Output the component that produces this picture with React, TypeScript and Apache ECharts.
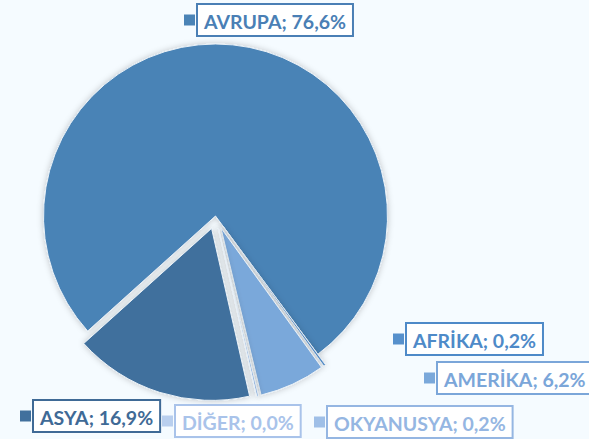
import React, { useEffect, useRef } from "react";
import * as echarts from "echarts";

const categories = ["AVRUPA", "AFRİKA", "AMERİKA", "OKYANUSYA", "DİĞER", "ASYA"];
const values = [76.6, 0.2, 6.2, 0.2, 0.0, 16.9];
const labels = ["76,6%", "0,2%", "6,2%", "0,2%", "0,0%", "16,9%"];

const sliceColors = ["#4a83b6", "#5690cc", "#7aa8da", "#9fbfe7", "#b9cfee", "#41709d"];
const textColors = ["#4a7fb5", "#4e8ac8", "#7ba6d9", "#95b6e2", "#a9c3ea", "#3f6a96"];
const labelPos: [number, number][] = [
  [184, 20],
  [393, 339],
  [424, 378],
  [314, 422],
  [162, 421],
  [20, 416],
];

export default function App() {
  const ref = useRef<HTMLDivElement>(null);
  useEffect(() => {
    if (!ref.current) return;
    const chart = echarts.init(ref.current, undefined, { renderer: "svg" });
    const data = categories.map((name, i) => ({
      name,
      value: values[i] === 0 ? 0.0001 : values[i],
      selected: i !== 0,
      itemStyle: { color: sliceColors[i] },
    }));
    const graphic = categories.map((name, i) => ({
      type: "text",
      x: labelPos[i][0],
      y: labelPos[i][1],
      z: 10,
      style: {
        text: `{m|}{s|}{t|${name}; ${labels[i]}}`,
        verticalAlign: "middle",
        align: "left",
        rich: {
          m: { width: 11, height: 11, backgroundColor: sliceColors[i] },
          s: { width: 3 },
          t: {
            fill: textColors[i],
            color: textColors[i],
            fontFamily: "Lato",
            fontWeight: "bold",
            fontSize: 19.5,
            borderColor: textColors[i],
            borderWidth: 2,
            backgroundColor: "#ffffff",
            padding: [6, 6, 4, 6],
          },
        },
      },
    }));
    chart.setOption({
      animation: false,
      backgroundColor: "#f5fbff",
      graphic,
      series: [
        {
          type: "pie",
          center: [215.5, 216],
          radius: 172,
          startAngle: 222,
          clockwise: true,
          minAngle: 0,
          selectedMode: "multiple",
          selectedOffset: 13,
          avoidLabelOverlap: false,
          itemStyle: {
            borderColor: "#e9f0f6",
            borderWidth: 1,
            shadowBlur: 6,
            shadowColor: "rgba(0,0,0,0.22)",
          },
          emphasis: { disabled: true },
          label: { show: false },
          labelLine: { show: false },
          data,
        },
      ],
    });
    return () => chart.dispose();
  }, []);
  return (
    <div
      ref={ref}
      style={{ position: "fixed", left: 0, top: 0, width: 589, height: 439 }}
    />
  );
}
